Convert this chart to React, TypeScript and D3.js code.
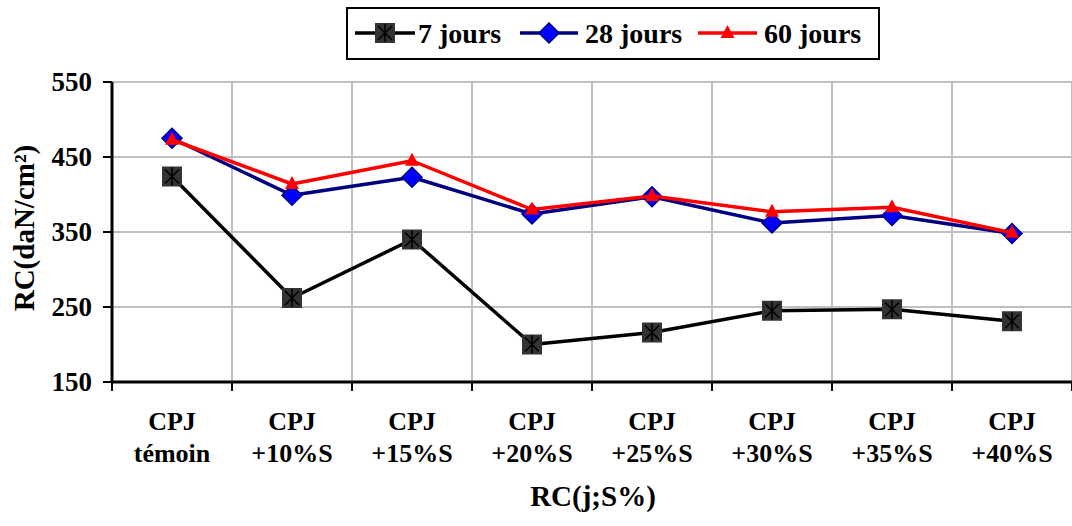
import React from "react";
import * as d3 from "d3";

const categories: string[] = [
  "CPJ|témoin",
  "CPJ|+10%S",
  "CPJ|+15%S",
  "CPJ|+20%S",
  "CPJ|+25%S",
  "CPJ|+30%S",
  "CPJ|+35%S",
  "CPJ|+40%S",
];
const values7: number[] = [424, 262, 340, 200, 216, 245, 247, 231];
const values28: number[] = [475, 399, 423, 374, 397, 362, 372, 348];
const values60: number[] = [473, 414, 445, 380, 398, 377, 383, 349];
const yTicks: number[] = [150, 250, 350, 450, 550];
const seriesNames: string[] = ["7 jours", "28 jours", "60 jours"];
const xTitle = "RC(j;S%)";
const yTitle = "RC(daN/cm²)";

const W = 1072;
const H = 526;
const M = { left: 112, right: 1072, top: 82, bottom: 382 };
const FONT = '"Liberation Serif", "Times New Roman", Times, serif';

function Marker({ kind, x, y }: { kind: number; x: number; y: number }) {
  if (kind === 0) {
    return (
      <g transform={`translate(${x},${y})`}>
        <rect x={-10} y={-10} width={20} height={20} fill="#333333" />
        <path d="M-7,-7L7,7M-7,7L7,-7M0,-9L0,9" stroke="#000" strokeWidth={1.5} fill="none" />
      </g>
    );
  }
  if (kind === 1) {
    return (
      <path
        transform={`translate(${x},${y})`}
        d="M0,-10L10,0L0,10L-10,0Z"
        fill="#0000ff"
        stroke="#000080"
        strokeWidth={1.5}
      />
    );
  }
  return <path transform={`translate(${x},${y})`} d="M0,-8L7,5L-7,5Z" fill="#ff0000" />;
}

export default function App() {
  const x = d3.scaleBand<string>().domain(categories).range([M.left, M.right]).padding(0);
  const y = d3.scaleLinear().domain([150, 550]).range([M.bottom, M.top]);
  const cx = (i: number) => (x(categories[i]) as number) + x.bandwidth() / 2;
  const series = [values7, values28, values60];
  const colors = ["#000000", "#000080", "#ff0000"];
  const line = d3
    .line<number>()
    .x((_, i) => cx(i))
    .y((d) => y(d));

  const bounds = [...categories.map((c) => x(c) as number), M.right];

  const legendItems = [
    { lx1: 355, lx2: 415, tx: 418 },
    { lx1: 520, lx2: 578, tx: 585 },
    { lx1: 698, lx2: 757, tx: 764 },
  ];

  const textStyle = { fontFamily: FONT, fontWeight: "bold" as const };

  return (
    <svg
      width={W}
      height={H}
      style={{ position: "absolute", left: 0, top: 0, background: "#fff", ...textStyle }}
    >
      <rect width={W} height={H} fill="#fff" />
      {/* gridlines */}
      {yTicks.map((t) => (
        <line key={"gy" + t} x1={M.left} x2={M.right} y1={y(t)} y2={y(t)} stroke="#c0c0c0" strokeWidth={2} />
      ))}
      {bounds.slice(1).map((b, i) => (
        <line key={"gx" + i} x1={b} x2={b} y1={M.top} y2={M.bottom} stroke="#c0c0c0" strokeWidth={2} />
      ))}
      {/* axes */}
      <line x1={M.left} x2={M.left} y1={M.top} y2={M.bottom + 1} stroke="#000" strokeWidth={3} />
      <line x1={M.left - 1} x2={M.right} y1={M.bottom} y2={M.bottom} stroke="#000" strokeWidth={3} />
      {yTicks.map((t) => (
        <g key={"ty" + t}>
          <line x1={M.left - 9} x2={M.left} y1={y(t)} y2={y(t)} stroke="#000" strokeWidth={2} />
          <text x={92} y={y(t) + 9} textAnchor="end" fontSize={27} style={textStyle}>
            {t}
          </text>
        </g>
      ))}
      {bounds.map((b, i) => (
        <line key={"tx" + i} x1={b} x2={b} y1={M.bottom} y2={M.bottom + 9} stroke="#000" strokeWidth={2} />
      ))}
      {categories.map((c, i) => {
        const parts = c.split("|");
        return (
          <text key={"cl" + i} x={cx(i)} textAnchor="middle" fontSize={26} style={textStyle}>
            <tspan x={cx(i)} y={430}>
              {parts[0]}
            </tspan>
            <tspan x={cx(i)} y={462}>
              {parts[1]}
            </tspan>
          </text>
        );
      })}
      <text x={593} y={506} textAnchor="middle" fontSize={29} style={textStyle}>
        {xTitle}
      </text>
      <text
        transform={`translate(34,${(M.top + M.bottom) / 2 - 4}) rotate(-90)`}
        textAnchor="middle"
        fontSize={29}
        style={textStyle}
      >
        {yTitle}
      </text>
      {/* series */}
      {series.map((s, k) => (
        <g key={"s" + k}>
          <path d={line(s) as string} fill="none" stroke={colors[k]} strokeWidth={3.5} strokeLinejoin="round" />
          {s.map((v, i) => (
            <Marker key={i} kind={k} x={cx(i)} y={y(v)} />
          ))}
        </g>
      ))}
      {/* legend */}
      <rect x={347} y={8} width={532} height={51} fill="#fff" stroke="#000" strokeWidth={2} />
      {legendItems.map((it, k) => (
        <g key={"lg" + k}>
          <line x1={it.lx1} x2={it.lx2} y1={33} y2={33} stroke={colors[k]} strokeWidth={3.5} />
          <Marker kind={k} x={(it.lx1 + it.lx2) / 2} y={33} />
          <text x={it.tx} y={43} fontSize={28} style={textStyle}>
            {seriesNames[k]}
          </text>
        </g>
      ))}
    </svg>
  );
}
